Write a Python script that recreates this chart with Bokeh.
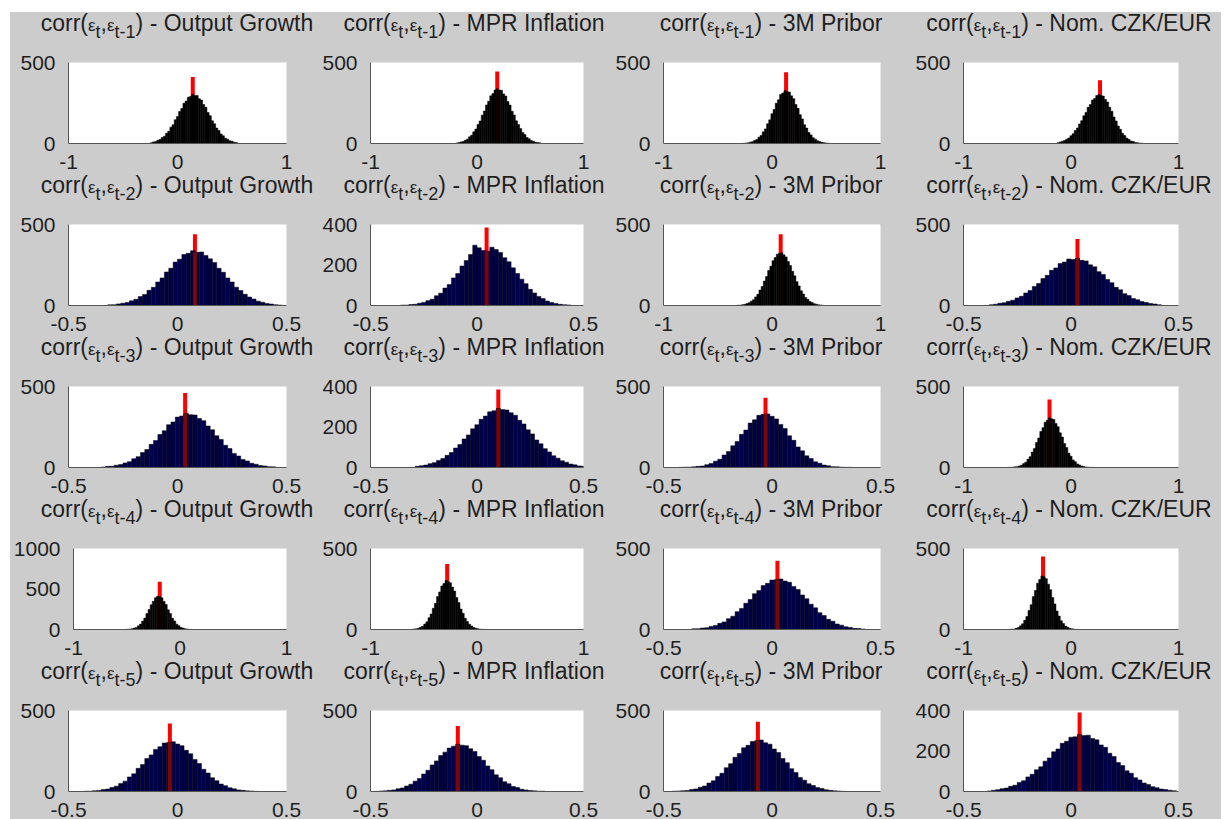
from bokeh.plotting import figure
from bokeh.layouts import column, row
from bokeh.models import Range1d, FixedTicker, Div
from bokeh.embed import file_html
from bokeh.resources import INLINE

# ---------------- data ----------------
variables = ["Output Growth", "MPR Inflation", "3M Pribor", "Nom. CZK/EUR"]
lag_labels = ["t-1", "t-2", "t-3", "t-4", "t-5"]

# x-axis limits per panel (row-major, 5 rows x 4 columns)
x_limits = [
    (-1, 1), (-1, 1), (-1, 1), (-1, 1),
    (-0.5, 0.5), (-0.5, 0.5), (-1, 1), (-0.5, 0.5),
    (-0.5, 0.5), (-0.5, 0.5), (-0.5, 0.5), (-1, 1),
    (-1, 1), (-1, 1), (-0.5, 0.5), (-1, 1),
    (-0.5, 0.5), (-0.5, 0.5), (-0.5, 0.5), (-0.5, 0.5),
]
y_max = [
    500, 500, 500, 500,
    500, 400, 500, 500,
    500, 400, 500, 500,
    1000, 500, 500, 500,
    500, 500, 500, 400,
]
y_ticks_by_max = {500: [0, 500], 400: [0, 200, 400], 1000: [0, 500, 1000]}
x_ticks_by_lim = {1: [-1, 0, 1], 0.5: [-0.5, 0, 0.5]}
x_tick_labels = {-1: "-1", 0: "0", 1: "1", -0.5: "-0.5", 0.5: "0.5"}

# red marker (sample value) position and height per panel
red_x = [
    0.14, 0.19, 0.13, 0.27,
    0.08, 0.045, 0.08, 0.03,
    0.035, 0.10, -0.03, -0.20,
    -0.19, -0.28, 0.025, -0.26,
    -0.035, -0.09, -0.065, 0.04,
]
red_top = [
    410, 445, 440, 390,
    440, 385, 440, 410,
    460, 385, 430, 420,
    590, 405, 425, 450,
    420, 405, 430, 390,
]

bin_width = 0.02
bin_start = [
    -0.25, -0.20, -0.27, -0.13,
    -0.32, -0.36, -0.32, -0.38,
    -0.35, -0.29, -0.43, -0.59,
    -0.52, -0.64, -0.37, -0.58,
    -0.43, -0.48, -0.46, -0.39,
]

counts_r1c1 = [5, 10, 12, 20, 25, 37, 45, 63, 76, 101, 116, 147, 166, 198, 216, 249, 262, 286, 290, 304,
               296, 297, 277, 268, 240, 223, 191, 172, 140, 122, 95, 80, 59, 48, 33, 27, 17, 14, 8, 6]
counts_r1c2 = [3, 6, 10, 12, 20, 27, 41, 51, 72, 89, 118, 139, 175, 200, 238, 261, 294, 308, 330, 338,
               331, 328, 306, 293, 259, 237, 199, 176, 140, 117, 92, 68, 55, 37, 29, 18, 14, 8, 6, 4]
counts_r1c3 = [1, 3, 4, 8, 11, 19, 25, 39, 50, 72, 90, 122, 146, 184, 210, 249, 270, 302, 312, 327,
               320, 318, 294, 277, 241, 217, 178, 151, 116, 95, 68, 53, 36, 27, 17, 12, 7, 5, 3, 2]
counts_r1c4 = [5, 9, 14, 18, 27, 34, 48, 60, 80, 96, 121, 141, 171, 192, 223, 241, 268, 278, 296, 302,
               297, 293, 272, 256, 224, 199, 164, 139, 108, 88, 63, 49, 33, 25, 15, 12, 6, 5, 2, 2]
counts_r2c1 = [4, 5, 10, 14, 18, 29, 38, 55, 68, 94, 112, 145, 170, 207, 230, 268, 286, 315, 322, 338,
               328, 330, 309, 288, 266, 230, 205, 170, 145, 113, 93, 69, 52, 40, 27, 20, 13, 9, 5, 3]
counts_r2c2 = [2, 2, 5, 6, 11, 15, 24, 31, 48, 61, 86, 104, 136, 158, 195, 222, 252, 298, 285, 272,
               268, 288, 276, 262, 236, 216, 186, 158, 130, 108, 80, 62, 45, 34, 22, 15, 10, 6, 4, 3]
counts_r2c3 = [2, 2, 5, 7, 13, 17, 27, 36, 53, 69, 95, 117, 151, 179, 216, 243, 277, 296, 317, 322,
               326, 313, 300, 272, 247, 211, 183, 147, 121, 91, 71, 50, 38, 25, 19, 11, 8, 4, 3, 1]
counts_r2c4 = [5, 8, 14, 17, 26, 33, 47, 57, 77, 92, 118, 136, 166, 186, 217, 232, 259, 268, 287, 284,
               291, 279, 275, 251, 239, 209, 192, 160, 141, 112, 97, 73, 61, 43, 36, 24, 19, 12, 9, 5]
counts_r3c1 = [3, 7, 8, 14, 18, 28, 36, 54, 67, 92, 111, 143, 167, 204, 227, 264, 281, 311, 318, 333,
               326, 324, 302, 289, 256, 233, 196, 173, 137, 117, 87, 71, 50, 40, 26, 20, 12, 10, 5, 4]
counts_r3c2 = [6, 9, 12, 19, 24, 35, 44, 60, 74, 96, 113, 141, 161, 191, 211, 238, 254, 275, 280, 291,
               286, 284, 270, 258, 233, 215, 186, 166, 136, 117, 93, 77, 58, 46, 33, 26, 17, 13, 8, 6]
counts_r3c3 = [1, 2, 2, 4, 7, 9, 17, 24, 39, 51, 77, 98, 134, 160, 205, 231, 274, 294, 322, 328,
               331, 316, 300, 266, 240, 196, 168, 127, 103, 72, 55, 35, 26, 15, 11, 5, 4, 2, 1, 1]
counts_r3c4 = [1, 1, 2, 4, 5, 10, 14, 24, 33, 51, 67, 95, 118, 154, 182, 222, 246, 279, 291, 307,
               301, 297, 272, 252, 214, 188, 148, 124, 89, 70, 47, 36, 22, 16, 9, 6, 3, 2, 1, 1]
counts_r4c1 = [1, 3, 4, 9, 17, 26, 45, 67, 104, 141, 197, 246, 306, 348, 392, 412,
               404, 391, 347, 308, 244, 198, 140, 105, 66, 46, 25, 17, 8, 5, 2, 1]
counts_r4c2 = [0, 1, 3, 4, 8, 14, 20, 34, 48, 73, 96, 131, 162, 203, 232, 268, 284, 302,
               296, 289, 262, 237, 197, 166, 126, 100, 69, 50, 32, 22, 12, 8, 4, 2, 1, 1]
counts_r4c3 = [4, 5, 9, 11, 19, 25, 38, 47, 67, 82, 110, 129, 162, 185, 221, 240, 271, 285, 305, 307,
               312, 299, 291, 265, 247, 213, 190, 156, 134, 104, 86, 63, 51, 34, 27, 17, 13, 7, 6, 3]
counts_r4c4 = [1, 2, 3, 7, 12, 23, 35, 57, 80, 118, 153, 203, 241, 286, 309, 331,
               326, 314, 280, 246, 198, 158, 114, 83, 54, 37, 21, 14, 6, 4, 2, 1]
counts_r5c1 = [2, 2, 5, 6, 12, 15, 25, 33, 50, 64, 90, 109, 143, 167, 204, 226, 260, 276, 299, 302,
               307, 293, 283, 254, 233, 197, 173, 137, 114, 85, 67, 46, 36, 23, 17, 10, 7, 4, 3, 1]
counts_r5c2 = [1, 3, 4, 7, 10, 17, 22, 34, 45, 64, 81, 108, 131, 164, 189, 222, 243, 268, 280, 292,
               286, 283, 264, 247, 216, 193, 158, 135, 103, 85, 60, 48, 31, 24, 14, 10, 6, 4, 2, 2]
counts_r5c3 = [2, 3, 5, 6, 12, 16, 26, 34, 52, 66, 93, 113, 147, 172, 211, 234, 270, 285, 309, 313,
               318, 301, 292, 262, 241, 203, 178, 141, 118, 87, 70, 48, 37, 24, 18, 11, 7, 4, 3, 1]
counts_r5c4 = [3, 6, 9, 14, 17, 26, 31, 45, 53, 72, 85, 108, 122, 150, 166, 196, 210, 238, 248, 268, 270, 282,
               276, 278, 262, 255, 230, 218, 189, 173, 143, 128, 102, 90, 68, 57, 42, 35, 24, 19, 12, 10, 6, 4]

all_counts = [
    counts_r1c1, counts_r1c2, counts_r1c3, counts_r1c4,
    counts_r2c1, counts_r2c2, counts_r2c3, counts_r2c4,
    counts_r3c1, counts_r3c2, counts_r3c3, counts_r3c4,
    counts_r4c1, counts_r4c2, counts_r4c3, counts_r4c4,
    counts_r5c1, counts_r5c2, counts_r5c3, counts_r5c4,
]

# ---------------- layout / style ----------------
BG = "#cccccc"
FONT = "Liberation Sans"
TXT = "#1f1f1f"
col_widths = [309, 293, 300, 309]
col_left_border = [58, 46, 50, 48]
row_heights = [162, 162, 162, 162, 159]
FRAME_W, FRAME_H, TOP_B = 218, 81, 50
TITLE_H = 30


def title_div(r, c):
    cx = col_left_border[c] + FRAME_W / 2
    eps = '<span style="font-size:17px;">\u03b5</span>'
    sub = '<span style="font-size:18px;position:relative;top:7px;">{}</span>'
    html = (
        '<div style="position:relative;width:{w}px;height:{h}px;">'
        '<div style="position:absolute;left:{cx}px;top:0px;transform:translateX(-50%);'
        'white-space:nowrap;font-family:\'Liberation Sans\',Arial,sans-serif;font-size:23px;'
        'line-height:23px;color:{col};">'
        'corr({e}{s1},{e}{s2}) - {var}</div></div>'
    ).format(w=col_widths[c], h=TITLE_H, cx=cx, col=TXT, e=eps,
             s1=sub.format("t"), s2=sub.format(lag_labels[r]), var=variables[c])
    return Div(text=html, width=col_widths[c], height=TITLE_H, margin=0)


def panel(r, c):
    k = r * 4 + c
    xmin, xmax = x_limits[k]
    ymax = y_max[k]
    h = row_heights[r] - TITLE_H
    p = figure(
        width=col_widths[c], height=h,
        x_range=Range1d(xmin, xmax), y_range=Range1d(0, ymax),
        output_backend="svg", toolbar_location=None,
        min_border_left=col_left_border[c],
        min_border_right=col_widths[c] - col_left_border[c] - FRAME_W,
        min_border_top=TOP_B - TITLE_H,
        min_border_bottom=h - (TOP_B - TITLE_H) - FRAME_H,
        margin=0,
    )
    p.background_fill_color = "white"
    p.border_fill_color = BG
    p.outline_line_color = None
    p.grid.grid_line_color = None

    for ax in (p.xaxis[0], p.yaxis[0]):
        ax.axis_line_color = "#555555"
        ax.axis_line_width = 1
        ax.major_tick_line_color = None
        ax.minor_tick_line_color = None
        ax.major_label_text_font = FONT
        ax.major_label_text_font_size = "21px"
        ax.major_label_text_color = TXT
    p.yaxis.major_label_standoff = 7
    p.xaxis.major_label_standoff = 5

    xt = x_ticks_by_lim[xmax]
    p.xaxis.ticker = FixedTicker(ticks=xt)
    p.xaxis.major_label_overrides = {t: x_tick_labels[t] for t in xt}
    yt = y_ticks_by_max[ymax]
    p.yaxis.ticker = FixedTicker(ticks=yt)
    p.yaxis.major_label_overrides = {t: str(t) for t in yt}

    counts = all_counts[k]
    left = [bin_start[k] + i * bin_width for i in range(len(counts))]
    right = [l + bin_width for l in left]

    navy = (xmax == 0.5)
    fill = "#00004a" if navy else "#000000"

    rx, rt = red_x[k], red_top[k]
    p.segment(x0=[rx], y0=[0], x1=[rx], y1=[rt], line_color="#ff0000", line_width=4)
    p.quad(left=left, right=right, bottom=0, top=counts,
           fill_color=fill, line_color="#000000", line_width=0.5)
    if navy:
        idx = int((rx - bin_start[k]) / bin_width)
        if 0 <= idx < len(counts):
            hh = min(counts[idx], rt)
            p.segment(x0=[rx], y0=[0], x1=[rx], y1=[hh], line_color="#7a0606", line_width=4)
    return p


rows = []
for r in range(5):
    cells = [column(title_div(r, c), panel(r, c), spacing=0, margin=0) for c in range(4)]
    rows.append(row(cells, spacing=0, margin=0))
page = column(rows, spacing=0, margin=(12, 0, 0, 10), styles={"background-color": BG})

open("out.html", "w").write(file_html(page, INLINE))
